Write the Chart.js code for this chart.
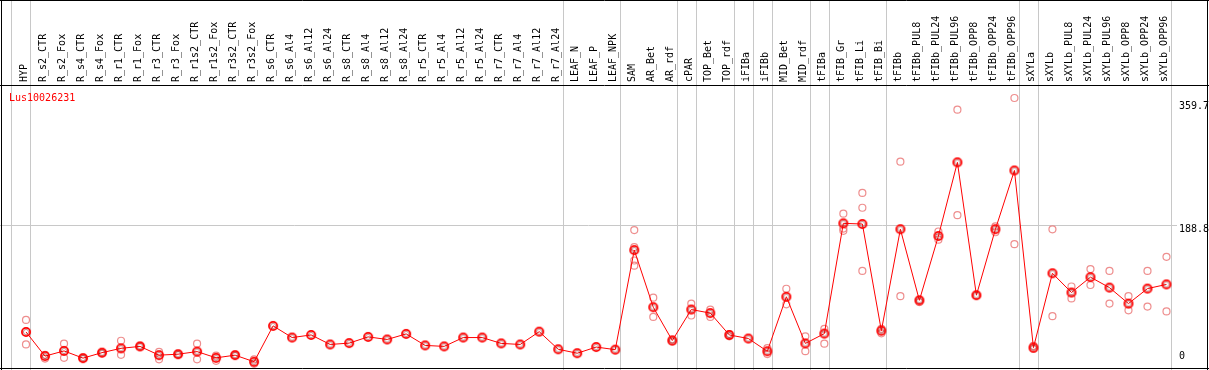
<!DOCTYPE html>
<html>
<head>
<meta charset="utf-8">
<script src="https://cdn.jsdelivr.net/npm/chart.js@4/dist/chart.umd.min.js"></script>
<style>
  html, body { margin: 0; padding: 0; background: #fff; }
  canvas { display: block; }
</style>
</head>
<body>
<canvas id="exprChart" width="1209" height="370"></canvas>
<script>
const geneId = 'Lus10026231';

const categories = [
  'HYP', 'R_s2_CTR', 'R_s2_Fox', 'R_s4_CTR', 'R_s4_Fox', 'R_r1_CTR', 'R_r1_Fox',
  'R_r3_CTR', 'R_r3_Fox', 'R_r1s2_CTR', 'R_r1s2_Fox', 'R_r3s2_CTR', 'R_r3s2_Fox',
  'R_s6_CTR', 'R_s6_Al4', 'R_s6_Al12', 'R_s6_Al24', 'R_s8_CTR', 'R_s8_Al4',
  'R_s8_Al12', 'R_s8_Al24', 'R_r5_CTR', 'R_r5_Al4', 'R_r5_Al12', 'R_r5_Al24',
  'R_r7_CTR', 'R_r7_Al4', 'R_r7_Al12', 'R_r7_Al24', 'LEAF_N', 'LEAF_P', 'LEAF_NPK',
  'SAM', 'AR_Bet', 'AR_rdf', 'cPAR', 'TOP_Bet', 'TOP_rdf', 'iFIBa', 'iFIBb',
  'MID_Bet', 'MID_rdf', 'tFIBa', 'tFIB_Gr', 'tFIB_Li', 'tFIB_Bi', 'tFIBb',
  'tFIBb_PUL8', 'tFIBb_PUL24', 'tFIBb_PUL96', 'tFIBb_OPP8', 'tFIBb_OPP24', 'tFIBb_OPP96',
  'sXYLa', 'sXYLb', 'sXYLb_PUL8', 'sXYLb_PUL24', 'sXYLb_PUL96', 'sXYLb_OPP8',
  'sXYLb_OPP24', 'sXYLb_OPP96'
];

// mean expression per sample
const means = [
  44.8, 12.3, 19.3, 9.6, 17, 22.8, 25.4, 13.6, 14.9, 18.4, 10, 13.6, 4.7,
  53, 37.3, 40.8, 28, 29.8, 38.2, 34.7, 42.2, 26.7, 25.4, 37.3, 37.3,
  29.4, 28, 45.2, 21.5, 16.2, 24.5, 21,
  155, 78.1, 33.3, 75, 70.2, 40.8, 36, 18.8, 92.2, 29.4, 42.6,
  191, 190.1, 46.5, 183.1, 87.4, 173.9, 273.1, 94.3, 183.1, 262.2,
  23.7, 123.8, 97.9, 118.6, 104.5, 83, 103.2, 108.8
];

// individual replicates per sample
const replicates = [
  [61, 28], [14, 9], [29, 10], [10, 9], [17, 16], [33, 14], [26, 25],
  [18, 8], [15, 14], [29, 8], [13, 6], [14, 13], [8, 2],
  [], [], [], [], [], [], [], [], [], [], [], [],
  [], [], [], [], [], [], [],
  [182, 159, 141, 134], [91, 65], [35, 32], [83, 67], [75, 65], [42, 39], [],
  [23, 15], [103, 82], [39, 19], [49, 29],
  [204, 184, 181], [232, 212, 127], [49, 43], [274, 93], [88, 85], [180, 169],
  [344, 202], [94], [187, 179], [359.7, 163],
  [26, 22], [183, 66], [106, 90], [129.5, 108], [127, 83], [93, 74], [127, 79], [146, 72.5]
];

const yTicks = [0, 188.8, 359.7];
const yTickLabels = ['0', '188.8', '359.7'];

// separator lines sit after these sample indexes (-1 = before first)
const groupBreaks = [-1, 0, 28, 31, 34, 35, 37, 38, 39, 41, 42, 45, 52, 53, 60];

const FONT = '"DejaVu Sans Mono", monospace';

const ExprChart = {
  chart: null,

  init() {
    const ctx = document.getElementById('exprChart').getContext('2d');
    this.chart = new Chart(ctx, {
      type: 'line',
      data: {
        labels: categories,
        datasets: this.buildDatasets()
      },
      options: this.buildOptions(),
      plugins: [this.framePlugin()]
    });
  },

  /**
   * Red ring with a thin darker inner ring for the mean marker
   */
  meanMarker() {
    const c = document.createElement('canvas');
    c.width = 12;
    c.height = 12;
    const g = c.getContext('2d');
    g.strokeStyle = '#ff0000';
    g.lineWidth = 1.8;
    g.beginPath();
    g.arc(6, 6, 4.1, 0, Math.PI * 2);
    g.stroke();
    g.strokeStyle = 'rgba(120, 0, 0, 0.55)';
    g.lineWidth = 0.8;
    g.beginPath();
    g.arc(6, 6, 2.6, 0, Math.PI * 2);
    g.stroke();
    return c;
  },

  buildDatasets() {
    const repPoints = [];
    replicates.forEach((reps, i) => {
      reps.forEach(v => repPoints.push({ x: categories[i], y: v }));
    });

    return [
      {
        label: 'mean',
        data: means,
        borderColor: '#ff0000',
        borderWidth: 1,
        pointStyle: this.meanMarker(),
        pointRadius: 5,
        tension: 0,
        clip: false
      },
      {
        label: 'replicates',
        data: repPoints,
        showLine: false,
        pointStyle: 'circle',
        pointRadius: 3.5,
        pointBorderWidth: 1.2,
        pointBorderColor: 'rgba(236, 130, 130, 0.9)',
        pointBackgroundColor: 'rgba(0,0,0,0)',
        clip: false
      }
    ];
  },

  buildOptions() {
    return {
      responsive: false,
      animation: false,
      devicePixelRatio: 1,
      events: [],
      layout: { padding: { left: 16.5, right: 33, top: 0, bottom: 0 } },
      plugins: {
        legend: { display: false },
        tooltip: { enabled: false }
      },
      scales: {
        x: {
          type: 'category',
          position: 'top',
          offset: true,
          grid: { display: false, drawTicks: false },
          border: { display: false },
          afterFit: (scale) => { scale.height = 85; },
          ticks: {
            autoSkip: false,
            minRotation: 90,
            maxRotation: 90,
            padding: 3,
            labelOffset: 10,
            color: '#000',
            font: { family: FONT, size: 10 }
          }
        },
        y: {
          display: false,
          min: 1.7,
          max: 377.2
        }
      }
    };
  },

  /**
   * Frame, group separators, grid line and side labels
   */
  framePlugin() {
    return {
      id: 'frame',
      beforeDatasetsDraw: (chart) => {
        const ctx = chart.ctx;
        const xs = chart.scales.x;
        const ys = chart.scales.y;
        const area = chart.chartArea;
        const W = chart.width;
        const H = chart.height;
        const step = xs.getPixelForValue(1) - xs.getPixelForValue(0);

        ctx.save();
        ctx.lineWidth = 1;

        // horizontal grid at middle tick
        ctx.strokeStyle = '#c8c8c8';
        const gy = Math.round(ys.getPixelForValue(yTicks[1])) + 0.5;
        ctx.beginPath();
        ctx.moveTo(0, gy);
        ctx.lineTo(area.right + 1, gy);
        ctx.stroke();

        // group separators
        groupBreaks.forEach(i => {
          const x = Math.round(xs.getPixelForValue(0) + (i + 0.23) * step) + 0.5;
          ctx.beginPath();
          ctx.moveTo(x, 0);
          ctx.lineTo(x, H);
          ctx.stroke();
        });

        // black frame
        ctx.strokeStyle = '#000';
        ctx.beginPath();
        ctx.moveTo(0, 0.5); ctx.lineTo(W, 0.5);
        ctx.moveTo(0, 85.5); ctx.lineTo(W, 85.5);
        ctx.moveTo(0, H - 1.5); ctx.lineTo(W, H - 1.5);
        ctx.moveTo(1.5, 0); ctx.lineTo(1.5, H);
        ctx.moveTo(W - 1.5, 0); ctx.lineTo(W - 1.5, H);
        ctx.stroke();

        // value labels on the right
        ctx.fillStyle = '#000';
        ctx.font = `10px ${FONT}`;
        ctx.textAlign = 'left';
        ctx.textBaseline = 'middle';
        yTicks.forEach((v, k) => {
          let y = ys.getPixelForValue(v) + 4;
          y = Math.min(Math.max(y, area.top + 21), area.bottom - 8);
          ctx.fillText(yTickLabels[k], area.right + 3, y);
        });

        // gene id
        ctx.fillStyle = '#ff0000';
        ctx.fillText(geneId, 9, 98);
        ctx.restore();
      }
    };
  }
};

ExprChart.init();
</script>
</body>
</html>
